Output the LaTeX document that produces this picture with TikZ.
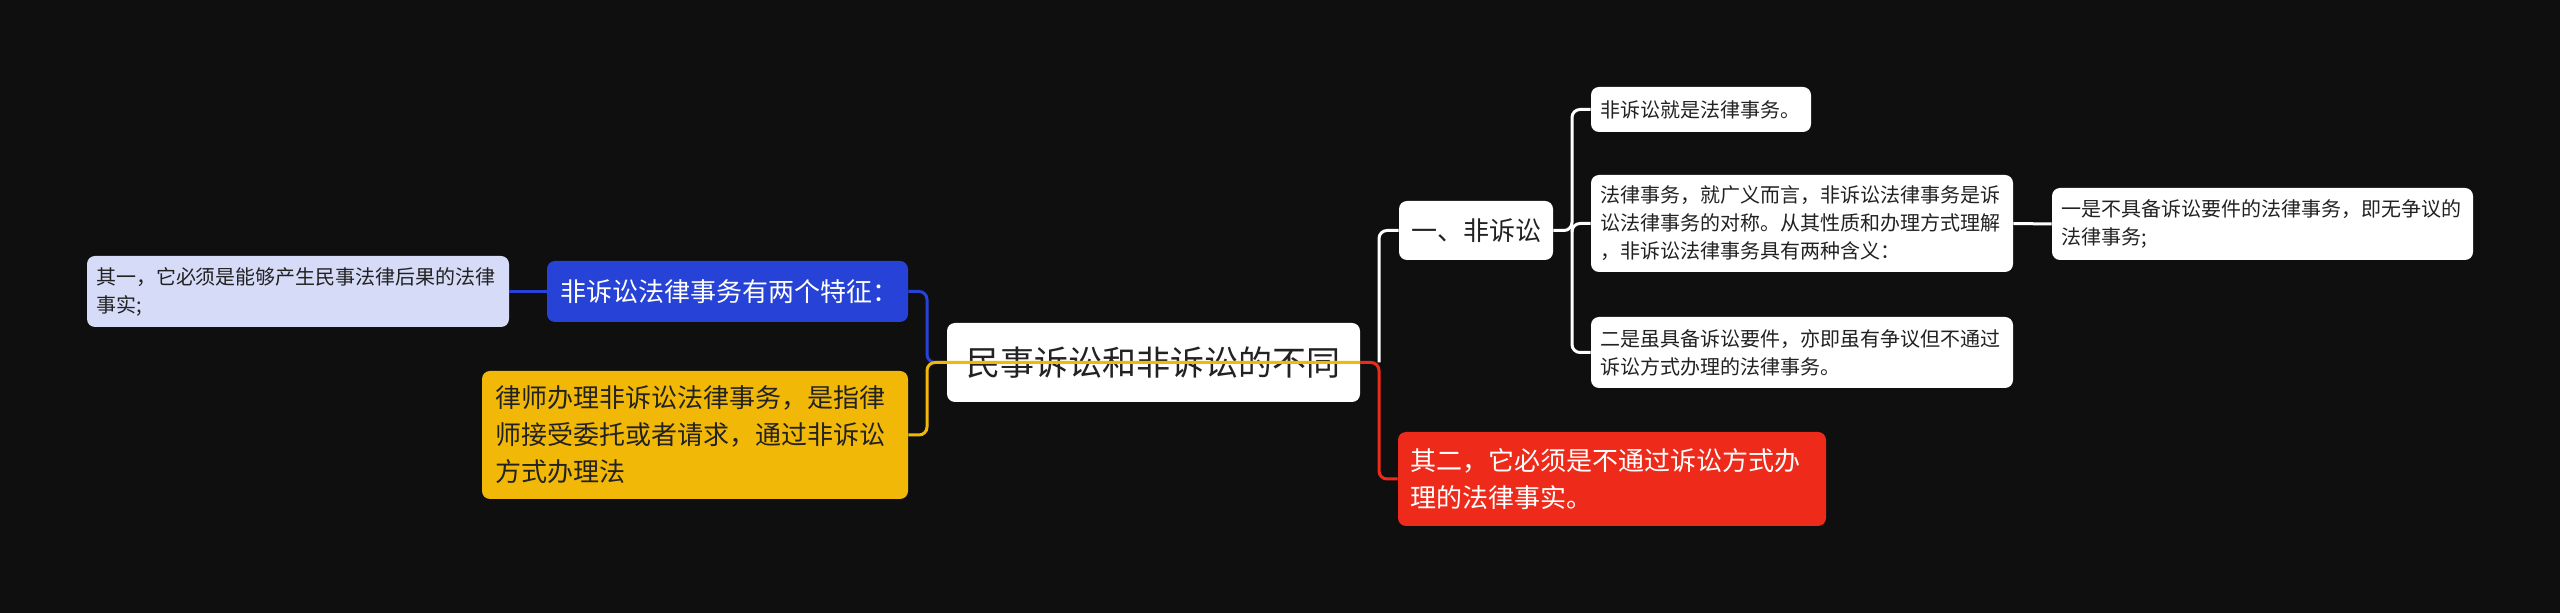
\documentclass[tikz,border=0pt]{standalone}
\usepackage{fontspec}
\setmainfont{Noto Sans CJK SC}
\definecolor{bg}{HTML}{0F0F0F}
\definecolor{lav}{HTML}{D6DBF7}
\definecolor{bluec}{HTML}{2742D6}
\definecolor{yelc}{HTML}{F2B807}
\definecolor{redc}{HTML}{EE2B1B}
\definecolor{dk}{HTML}{222222}
\begin{document}
\begin{tikzpicture}[x=0.5pt,y=-0.5pt,
  box/.style={rounded corners=4pt, inner ysep=0pt, align=left},
  f10/.style={font=\fontsize{10pt}{14pt}\selectfont},
  f13/.style={font=\fontsize{13pt}{18.5pt}\selectfont},
  conn/.style={line width=1.5pt, rounded corners=4pt},
]
\fill[bg] (0,0) rectangle (2560,613);
\useasboundingbox (0,0) rectangle (2560,613);

% nodes
\node[box, fill=white, text=dk, align=center, inner xsep=0pt, text width=206.5pt, minimum height=39.5pt,
  font=\fontsize{17pt}{20pt}\selectfont] (C) at (1153.5,362.5) {民事诉讼和非诉讼的不同};

\node[box, fill=lav, text=dk, f10, inner xsep=4.5pt, text width=202pt, minimum height=35.5pt]
  (L1) at (298,291.5) {其一，它必须是能够产生民事法律后果的法律\\事实;};
\node[box, fill=bluec, text=white, f13, inner xsep=6.5pt, text width=167.5pt, minimum height=30.5pt]
  (B) at (727.5,291.5) {非诉讼法律事务有两个特征：};
\node[box, fill=yelc, text=dk, f13, inner xsep=6.5pt, text width=200pt, minimum height=64pt]
  (Y) at (695,435) {律师办理非诉讼法律事务，是指律\\师接受委托或者请求，通过非诉讼\\方式办理法};

\node[box, fill=white, text=dk, f13, align=center, inner xsep=0pt, text width=77pt, minimum height=29.5pt]
  (N) at (1476,230.5) {一、非诉讼};
\node[box, fill=redc, text=white, f13, inner xsep=6pt, text width=202pt, minimum height=47pt]
  (R) at (1612,479) {其二，它必须是不通过诉讼方式办\\理的法律事实。};

\node[box, fill=white, text=dk, f10, inner xsep=4.5pt, text width=101pt, minimum height=22.5pt]
  (S1) at (1701,109.5) {非诉讼就是法律事务。};
\node[box, fill=white, text=dk, f10, inner xsep=4.5pt, text width=202pt, minimum height=48.5pt]
  (S2) at (1802,223.5) {法律事务，就广义而言，非诉讼法律事务是诉\\讼法律事务的对称。从其性质和办理方式理解\\，非诉讼法律事务具有两种含义：};
\node[box, fill=white, text=dk, f10, inner xsep=4.5pt, text width=202pt, minimum height=35.5pt]
  (S3) at (1802,352.5) {二是虽具备诉讼要件，亦即虽有争议但不通过\\诉讼方式办理的法律事务。};
\node[box, fill=white, text=dk, f10, inner xsep=4.5pt, text width=201.5pt, minimum height=36pt]
  (T1) at (2262.5,224) {一是不具备诉讼要件的法律事务，即无争议的\\法律事务;};

% junctions
\coordinate (Lj) at (927,362.5);
\coordinate (Rj) at (1379,362.5);
\coordinate (Nj) at (1572,230.5);

% connectors
\draw[conn, draw=bluec] (C.west) -- (Lj) |- (B.east);
\draw[conn, draw=bluec] (B.west) -- (L1.east);
\draw[conn, draw=yelc] (C.east) -- (Lj) |- (Y.east);
\draw[conn, draw=white] (Rj) |- (N.west);
\draw[conn, draw=redc] (C.east) -- (Rj) |- (R.west);
\draw[conn, draw=white] (N.east) -- (Nj) |- (S1.west);
\draw[conn, draw=white] (Nj) |- (S2.west);
\draw[conn, draw=white] (Nj) |- (S3.west);
\draw[conn, draw=white] (S2.east) -- (T1.west);
\end{tikzpicture}
\end{document}
